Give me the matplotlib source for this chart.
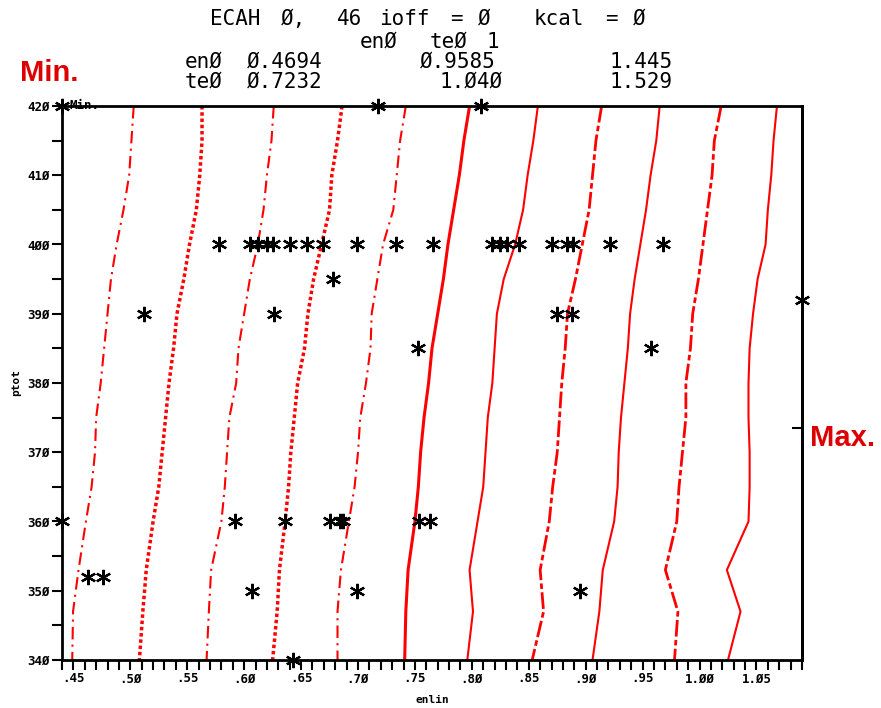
import matplotlib
matplotlib.use("Agg")
import matplotlib.pyplot as plt
from matplotlib.ticker import MultipleLocator, FixedLocator

# pressure levels (ptot) shared by all curves
ptot = [420, 415, 410, 405, 400, 395, 390, 385, 380, 375, 370, 365, 360, 353, 347, 340]

# enlin value of each contour at the ptot levels, left to right
c1 = [0.503, 0.501, 0.499, 0.494, 0.488, 0.483, 0.480, 0.477, 0.474, 0.470, 0.469, 0.466, 0.461, 0.4545, 0.4497, 0.449]
c2 = [0.563, 0.563, 0.561, 0.558, 0.552, 0.547, 0.541, 0.538, 0.534, 0.531, 0.528, 0.525, 0.520, 0.514, 0.511, 0.508]
c3 = [0.626, 0.624, 0.620, 0.617, 0.612, 0.605, 0.600, 0.595, 0.593, 0.587, 0.585, 0.583, 0.580, 0.571, 0.569, 0.567]
c4 = [0.686, 0.682, 0.677, 0.675, 0.668, 0.661, 0.656, 0.653, 0.647, 0.644, 0.641, 0.639, 0.636, 0.631, 0.629, 0.625]
c5 = [0.742, 0.737, 0.734, 0.731, 0.722, 0.717, 0.712, 0.711, 0.707, 0.702, 0.700, 0.697, 0.692, 0.685, 0.682, 0.682]
c6 = [0.798, 0.793, 0.789, 0.784, 0.779, 0.775, 0.770, 0.765, 0.762, 0.758, 0.755, 0.753, 0.750, 0.744, 0.742, 0.741]
c7 = [0.858, 0.854, 0.849, 0.845, 0.838, 0.828, 0.822, 0.820, 0.818, 0.814, 0.812, 0.810, 0.805, 0.798, 0.801, 0.796]
c8 = [0.914, 0.909, 0.906, 0.903, 0.897, 0.891, 0.884, 0.882, 0.879, 0.877, 0.875, 0.871, 0.868, 0.860, 0.863, 0.853]
c9 = [0.965, 0.962, 0.957, 0.953, 0.948, 0.943, 0.939, 0.937, 0.934, 0.931, 0.929, 0.928, 0.925, 0.915, 0.912, 0.906]
c10 = [1.019, 1.013, 1.011, 1.007, 1.003, 0.999, 0.994, 0.992, 0.988, 0.988, 0.985, 0.982, 0.980, 0.970, 0.981, 0.978]
c11 = [1.068, 1.065, 1.063, 1.060, 1.058, 1.051, 1.047, 1.044, 1.043, 1.043, 1.044, 1.044, 1.043, 1.024, 1.036, 1.025]

# observation points (asterisks)
star_x = [0.440, 0.718, 0.808,
          0.578, 0.605, 0.612, 0.620, 0.625, 0.640, 0.655, 0.669, 0.699, 0.733,
          0.766, 0.818, 0.825, 0.831, 0.841, 0.870, 0.884, 0.889, 0.921, 0.968,
          0.678,
          0.512, 0.626, 0.875, 0.888,
          0.753, 0.957,
          1.090,
          0.440, 0.592, 0.636, 0.675, 0.684, 0.687, 0.754, 0.763,
          0.463, 0.476,
          0.607, 0.699, 0.895,
          0.643]
star_y = [420, 420, 420,
          400, 400, 400, 400, 400, 400, 400, 400, 400, 400,
          400, 400, 400, 400, 400, 400, 400, 400, 400, 400,
          395,
          390, 390, 390, 390,
          385, 385,
          392,
          360, 360, 360, 360, 360, 360, 360, 360,
          352, 352,
          350, 350, 350,
          340]

xtick_vals = [0.45, 0.50, 0.55, 0.60, 0.65, 0.70, 0.75, 0.80, 0.85, 0.90, 0.95, 1.00, 1.05]
xtick_text = [".45", ".5Ø", ".55", ".6Ø", ".65", ".7Ø", ".75", ".8Ø", ".85", ".9Ø", ".95", "1.ØØ", "1.Ø5"]
ytick_vals = [340, 350, 360, 370, 380, 390, 400, 410, 420]
ytick_text = ["34Ø", "35Ø", "36Ø", "37Ø", "38Ø", "39Ø", "4ØØ", "41Ø", "42Ø"]

# header text, split in pieces as the plotter placed them (text, x px, y px)
header = [
    ("ECAH", 210, 19), ("Ø,", 281, 19), ("46", 337, 19), ("ioff", 379, 19),
    ("=", 450, 19), ("Ø", 478, 19), ("kcal", 534, 19), ("=", 605, 19), ("Ø", 633, 19),
    ("enØ", 360, 42), ("teØ", 430, 42), ("1", 487, 42),
    ("enØ", 185, 62), ("Ø.4694", 247, 62), ("Ø.9585", 420, 62), ("1.445", 610, 62),
    ("teØ", 185, 82), ("Ø.7232", 247, 82), ("1.Ø4Ø", 440, 82), ("1.529", 610, 82),
]

curves = [c1, c2, c3, c4, c5, c6, c7, c8, c9, c10, c11]
dashdot = (0, (6, 2.5, 1, 2.5))
dotted = (0, (1, 0.8))
longdash = (0, (6, 1.2, 2, 1.2))
styles = [(dashdot, 1.5), (dotted, 2.5), (dashdot, 1.5), (dotted, 2.5), (dashdot, 1.5),
          ("-", 2.2), ("-", 1.5), (longdash, 2.0), ("-", 1.5), (longdash, 2.0), ("-", 1.5)]

mono = "DejaVu Sans Mono"

fig = plt.figure(figsize=(8.81, 7.08), dpi=100)
ax = fig.add_axes([62 / 881, 48 / 708, 740 / 881, 554 / 708])

for xs, (ls, lw) in zip(curves, styles):
    ax.plot(xs, ptot, color="red", linestyle=ls, linewidth=lw)

ax.plot(star_x, star_y, linestyle="none", marker=(6, 2, 0), markersize=11,
        markeredgewidth=1.6, color="black", clip_on=False, zorder=5)

ax.set_xlim(0.44, 1.09)
ax.set_ylim(340, 420)

ax.xaxis.set_major_locator(FixedLocator(xtick_vals))
ax.set_xticklabels(xtick_text, fontfamily=mono, fontweight="bold", fontsize=9)
ax.xaxis.set_minor_locator(MultipleLocator(0.01))
ax.yaxis.set_major_locator(FixedLocator(ytick_vals))
ax.set_yticklabels(ytick_text, fontfamily=mono, fontweight="bold", fontsize=9)
ax.yaxis.set_minor_locator(MultipleLocator(5))
ax.tick_params(which="both", direction="out", length=7, width=1.5, pad=2)

for s in ax.spines.values():
    s.set_linewidth(2)

sec = ax.secondary_yaxis("right")
sec.set_ticks([373.5])
sec.tick_params(direction="in", length=7, width=1.5, labelright=False)
sec.spines["right"].set_linewidth(2)

ax.set_xlabel("enlin", fontfamily=mono, fontweight="bold", fontsize=8, labelpad=7)
ax.set_ylabel("ptot", fontfamily=mono, fontweight="bold", fontsize=8, labelpad=4)

ax.text(0.447, 420, "Min.", fontfamily=mono, fontsize=9, fontweight="bold",
        ha="left", va="center")

for txt, px, py in header:
    fig.text(px / 881, 1 - py / 708, txt, fontfamily=mono, fontsize=15,
             ha="left", va="center")

fig.text(49 / 881, 1 - 73 / 708, "Min.", color="#DD0000", fontsize=21,
         fontfamily="Liberation Sans", fontweight="bold", ha="center", va="center")
fig.text(843 / 881, 1 - 438 / 708, "Max.", color="#DD0000", fontsize=21,
         fontfamily="Liberation Sans", fontweight="bold", ha="center", va="center")

fig.savefig("out.png", dpi=100)
